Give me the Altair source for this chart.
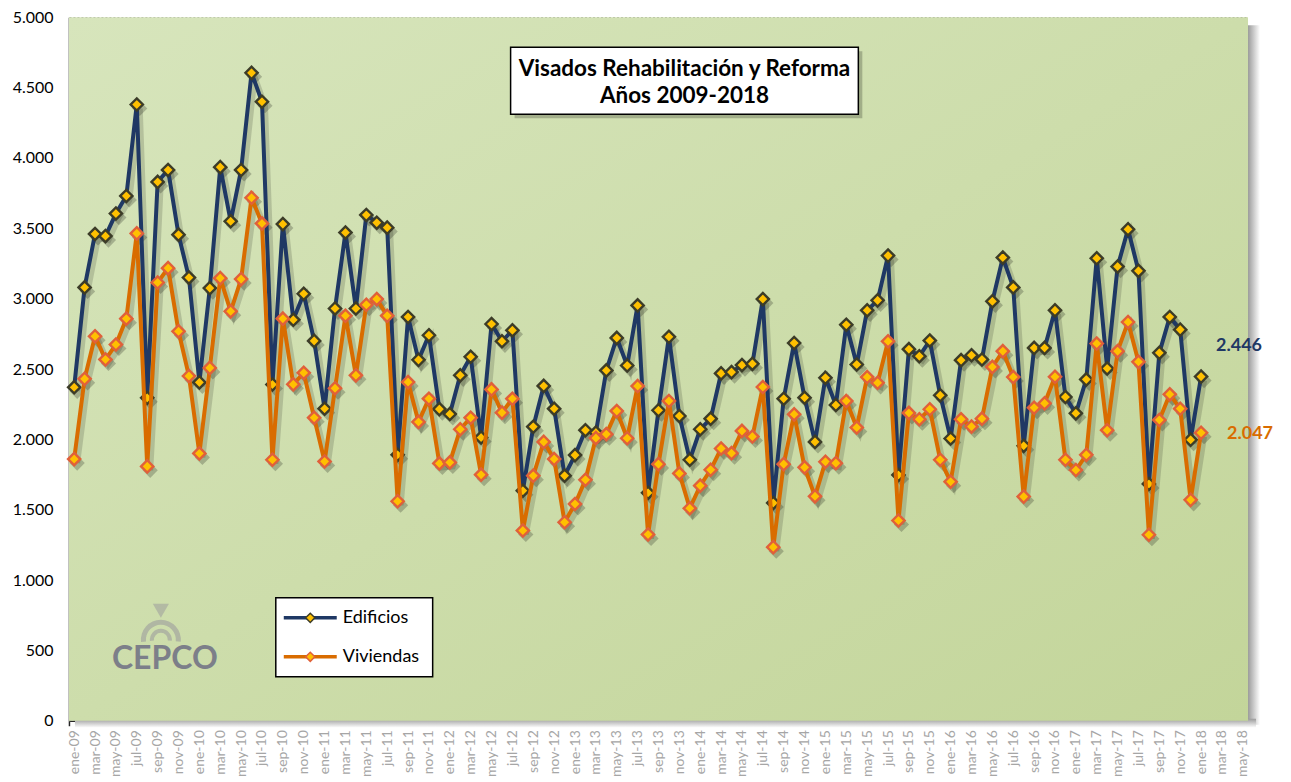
import altair as alt
import pandas as pd

meses = ["ene", "feb", "mar", "abr", "may", "jun", "jul", "ago", "sep", "oct", "nov", "dic"]
anios = ["09", "10", "11", "12", "13", "14", "15", "16", "17", "18"]
categorias = [f"{m}-{a}" for a in anios for m in meses][:113]  # ene-09 .. may-18

edificios = [
    2370, 3080, 3460, 3445, 3605, 3730, 4380, 2295, 3830, 3915, 3455, 3150,
    2405, 3075, 3935, 3550, 3915, 4605, 4400, 2390, 3530, 2850, 3035, 2700,
    2218, 2930, 3470, 2930, 3595, 3540, 3505, 1890, 2870, 2565, 2740, 2215,
    2180, 2455, 2587, 2013, 2820, 2697, 2775, 1635, 2090, 2380, 2218, 1742,
    1888, 2065, 2048, 2490, 2721, 2525, 2952, 1620, 2207, 2729, 2166, 1855,
    2072, 2147, 2469, 2478, 2528, 2537, 2997, 1548, 2289, 2685, 2296, 1982,
    2438, 2244, 2815, 2532, 2917, 2988, 3306, 1747, 2641, 2591, 2702, 2313,
    2006, 2563, 2598, 2568, 2981, 3292, 3080, 1954, 2650, 2650, 2917, 2301,
    2185, 2426, 3287, 2504, 3228, 3493, 3198, 1683, 2615, 2870, 2780, 1997,
    2446,
]
viviendas = [
    1860, 2430, 2733, 2568, 2674, 2858, 3464, 1808, 3115, 3217, 2768, 2450,
    1900, 2508, 3146, 2910, 3139, 3717, 3535, 1855, 2858, 2391, 2473, 2154,
    1843, 2363, 2879, 2455, 2957, 2997, 2879, 1560, 2407, 2124, 2289, 1829,
    1836, 2072, 2154, 1749, 2355, 2190, 2289, 1352, 1742, 1982, 1860, 1411,
    1541, 1713, 2009, 2037, 2202, 2008, 2379, 1324, 1824, 2273, 1758, 1510,
    1671, 1784, 1935, 1902, 2060, 2020, 2372, 1234, 1824, 2178, 1801, 1595,
    1841, 1831, 2273, 2084, 2443, 2402, 2697, 1423, 2188, 2143, 2214, 1855,
    1699, 2143, 2091, 2147, 2515, 2627, 2443, 1593, 2225, 2256, 2445, 1855,
    1782, 1890, 2681, 2065, 2627, 2834, 2551, 1322, 2138, 2320, 2218, 1570,
    2047,
]
series = ["Edificios", "Viviendas"]
titulo = ["Visados Rehabilitación y Reforma", "Años 2009-2018"]
logo_texto = "CEPCO"

df = pd.DataFrame({"mes": categorias[:len(edificios)], "Edificios": edificios, "Viviendas": viviendas})

W, H = 1180, 704
NAVY = "#1f3864"
ORANGE = "#d96c00"
GOLD = "#ffc000"
FONT = "Lato"

x_enc = alt.X(
    "mes:N",
    scale=alt.Scale(domain=categorias, type="band", paddingInner=0, paddingOuter=0),
    bandPosition=0.5,
    axis=alt.Axis(
        values=categorias[::2], tickBand="extent", labelAngle=270, title=None,
        grid=False, domainColor="#262626", domainWidth=1.5, tickColor="#262626",
        tickSize=5, tickWidth=1.5, labelColor="#a6a6a6", labelFontSize=14,
        labelFont=FONT, labelPadding=4,
    ),
)

y_scale = alt.Scale(domain=[0, 5000], nice=False)
y_axis = alt.Axis(
    values=list(range(0, 5001, 500)),
    labelExpr="replace(format(datum.value, ','), ',', '.')",
    grid=True, gridDash=[2, 2], gridColor="#7f7f7f", gridWidth=1.5,
    ticks=False, domainColor="#8c8c8c", domainWidth=2, labelFontSize=16,
    labelColor="#000000", labelPadding=16, labelFont=FONT, title=None,
)


def yenc(field):
    return alt.Y(f"{field}:Q", scale=y_scale, axis=y_axis)


one = alt.Data(values=[{}])

bg_grad = alt.LinearGradient(
    gradient="linear", x1=0, x2=1, y1=0, y2=1,
    stops=[alt.GradientStop(color="#d7e5bc", offset=0), alt.GradientStop(color="#c3d59a", offset=1)],
)
shadow_r = alt.Chart(one).mark_rect(
    fill=alt.LinearGradient(gradient="linear", x1=0, x2=1, y1=0, y2=0,
                            stops=[alt.GradientStop(color="#8a8a8a", offset=0),
                                   alt.GradientStop(color="#ffffff", offset=1)])
).encode(x=alt.value(W - 2), x2=alt.value(W + 12), y=alt.value(8), y2=alt.value(H + 4))
shadow_b = alt.Chart(one).mark_rect(
    fill=alt.LinearGradient(gradient="linear", x1=0, x2=0, y1=0, y2=1,
                            stops=[alt.GradientStop(color="#9a9a9a", offset=0),
                                   alt.GradientStop(color="#ffffff", offset=1)])
).encode(x=alt.value(6), x2=alt.value(W + 8), y=alt.value(H - 2), y2=alt.value(H + 7))
bg = alt.Chart(one).mark_rect(fill=bg_grad).encode(
    x=alt.value(0), x2=alt.value(W), y=alt.value(0), y2=alt.value(H)
)

base = alt.Chart(df)


def line_shadow(field):
    return base.mark_line(color="#000000", opacity=0.15, strokeWidth=6, xOffset=3, yOffset=4).encode(
        x=x_enc, y=yenc(field))


def point_shadow(field):
    return base.mark_point(shape="diamond", filled=True, color="#000000", opacity=0.22, size=230,
                           xOffset=3, yOffset=4).encode(x=x_enc, y=yenc(field))


def line(field, color):
    return base.mark_line(color=color, strokeWidth=4).encode(x=x_enc, y=yenc(field))


def points(field, stroke):
    return base.mark_point(shape="diamond", filled=True, fill=GOLD, stroke=stroke, strokeWidth=2.4,
                           size=150, opacity=1).encode(x=x_enc, y=yenc(field))


def end_label(field, color, dx, dy):
    return base.transform_filter(f"datum.mes == '{categorias[len(edificios) - 1]}'").transform_calculate(
        t=f"replace(format(datum['{field}'], ','), ',', '.')"
    ).mark_text(font=FONT, fontWeight="bold", fontSize=18, color=color, dx=dx, dy=dy).encode(
        x=x_enc, y=yenc(field), text="t:N")


# Title box
tb_x1, tb_x2, tb_y1, tb_y2 = 442, 790, 30, 97
title_shadow = alt.Chart(one).mark_rect(fill="#000000", opacity=0.22).encode(
    x=alt.value(tb_x1 + 4), x2=alt.value(tb_x2 + 4), y=alt.value(tb_y1 + 4), y2=alt.value(tb_y2 + 4))
title_box = alt.Chart(one).mark_rect(fill="#ffffff", stroke="#000000", strokeWidth=1.5).encode(
    x=alt.value(tb_x1), x2=alt.value(tb_x2), y=alt.value(tb_y1), y2=alt.value(tb_y2))
title_l1 = alt.Chart(one).mark_text(text=titulo[0], font=FONT, fontWeight="bold", fontSize=22.5,
                                    color="#000000", align="center", baseline="alphabetic").encode(
    x=alt.value((tb_x1 + tb_x2) / 2), y=alt.value(59))
title_l2 = alt.Chart(one).mark_text(text=titulo[1], font=FONT, fontWeight="bold", fontSize=22.5,
                                    color="#000000", align="center", baseline="alphabetic").encode(
    x=alt.value((tb_x1 + tb_x2) / 2), y=alt.value(86))

# Legend box
lg_x1, lg_x2, lg_y1, lg_y2 = 207, 364, 581, 660
legend_box = alt.Chart(one).mark_rect(fill="#ffffff", stroke="#000000", strokeWidth=1.5).encode(
    x=alt.value(lg_x1), x2=alt.value(lg_x2), y=alt.value(lg_y1), y2=alt.value(lg_y2))
legend_layers = []
for name, col, stk, yy in [(series[0], NAVY, "#3c3c28", 601), (series[1], ORANGE, "#e0603a", 640)]:
    legend_layers.append(alt.Chart(one).mark_rule(color=col, strokeWidth=3.5).encode(
        x=alt.value(215), x2=alt.value(268), y=alt.value(yy)))
    legend_layers.append(alt.Chart(one).mark_point(shape="diamond", filled=True, fill=GOLD, stroke=stk,
                                                   strokeWidth=1.5, size=85, opacity=1).encode(
        x=alt.value(241.5), y=alt.value(yy)))
    legend_layers.append(alt.Chart(one).mark_text(text=name, font=FONT, fontSize=18, color="#000000",
                                                  align="left", baseline="middle").encode(
        x=alt.value(274), y=alt.value(yy)))

logo = alt.Chart(one).mark_text(text=logo_texto, font=FONT, fontWeight="bold", fontSize=32,
                                color="#6f6f84", opacity=0.85, align="center", baseline="middle").encode(
    x=alt.value(96), y=alt.value(642))
logo_ring1 = alt.Chart(one).mark_arc(radius=20, radius2=15, theta=4.6, theta2=7.95, color="#9c9c9c",
                                     opacity=0.6).encode(x=alt.value(92), y=alt.value(623))
logo_ring2 = alt.Chart(one).mark_arc(radius=11, radius2=7, theta=4.6, theta2=7.95, color="#9c9c9c",
                                     opacity=0.6).encode(x=alt.value(92), y=alt.value(623))
logo_top = alt.Chart(one).mark_point(shape="triangle-down", filled=True, color="#9c9c9c", opacity=0.55,
                                     size=260).encode(x=alt.value(92), y=alt.value(594))

chart = alt.layer(
    shadow_r, shadow_b, bg, logo_ring1, logo_ring2, logo_top, logo,
    line_shadow("Edificios"), line_shadow("Viviendas"),
    point_shadow("Edificios"), point_shadow("Viviendas"),
    line("Edificios", NAVY), points("Edificios", "#3c3c28"),
    line("Viviendas", ORANGE), points("Viviendas", "#e0603a"),
    end_label("Edificios", NAVY, 38, -31), end_label("Viviendas", ORANGE, 49, 1),
    title_shadow, title_box, title_l1, title_l2,
    legend_box, *legend_layers,
).properties(
    width=W, height=H,
    autosize=alt.AutoSizeParams(type="none"),
    padding={"left": 61, "top": 9, "right": 35, "bottom": 57},
    background="#ffffff",
).configure_view(stroke=None)

chart.save("out.html", embed_options={"renderer": "svg", "actions": False})
